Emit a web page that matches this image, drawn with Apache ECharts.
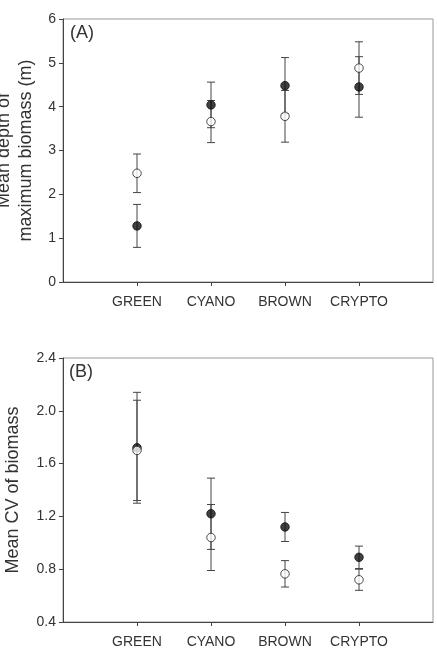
<!DOCTYPE html>
<html lang="en">
<head>
	<meta charset="UTF-8">
	<title>Depth and CV of biomass</title>
	<script src="https://cdn.jsdelivr.net/npm/echarts@6/dist/echarts.min.js"></script>
</head>
<body style="margin:0">
	<div id="chart" style="width: 437px;height: 656px;"></div>
</body>
<script>
	// categories on x (placed at 1..4)
	const categories = ['GREEN', 'CYANO', 'BROWN', 'CRYPTO']
	const catPos = [1, 2, 3, 4]

	// (A) mean depth of maximum biomass (m)
	const depthFilled = [1.28, 4.04, 4.48, 4.45]
	const depthFilledErr = [0.49, 0.52, 0.64, 0.69]
	const depthOpen = [2.48, 3.66, 3.78, 4.88]
	const depthOpenErr = [0.44, 0.48, 0.59, 0.60]

	// (B) mean CV of biomass
	const cvFilled = [1.72, 1.22, 1.12, 0.89]
	const cvFilledErr = [0.42, 0.27, 0.11, 0.085]
	const cvOpen = [1.70, 1.04, 0.765, 0.72]
	const cvOpenErr = [0.38, 0.25, 0.10, 0.08]

	const depthTicks = [0, 1, 2, 3, 4, 5, 6]
	const cvTicks = ['0.4', '0.8', '1.2', '1.6', '2.0', '2.4']

	const font = 'Liberation Sans, Arial, sans-serif'
	const textColor = '#333'

	let mcharts = echarts.init(document.getElementById('chart'))

	const points = (vals) => vals.map((v, i) => [catPos[i], v])
	const bars = (vals, errs) => vals.map((v, i) => [catPos[i], v - errs[i], v + errs[i]])

	function errorBar(params, api) {
		const x = api.value(0)
		const lo = api.coord([x, api.value(1)])
		const hi = api.coord([x, api.value(2)])
		const cap = 4
		const style = { stroke: '#444', lineWidth: 1 }
		return {
			type: 'group',
			children: [
				{ type: 'line', shape: { x1: lo[0], y1: lo[1], x2: hi[0], y2: hi[1] }, style },
				{ type: 'line', shape: { x1: lo[0] - cap, y1: lo[1], x2: lo[0] + cap, y2: lo[1] }, style },
				{ type: 'line', shape: { x1: hi[0] - cap, y1: hi[1], x2: hi[0] + cap, y2: hi[1] }, style }
			]
		}
	}

	function xAxisFor(gridIndex) {
		return {
			gridIndex,
			type: 'value',
			min: 0,
			max: 5,
			interval: 1,
			splitLine: { show: false },
			axisLine: { lineStyle: { color: '#444' } },
			axisTick: { customValues: catPos, length: 4, lineStyle: { color: '#444' } },
			axisLabel: {
				customValues: catPos,
				formatter: v => categories[v - 1],
				margin: 13,
				fontSize: 14,
				fontFamily: font,
				color: textColor
			}
		}
	}

	function yAxisFor(gridIndex, min, max, interval, name, nameGap, fmt) {
		return {
			gridIndex,
			type: 'value',
			min,
			max,
			interval,
			name,
			nameLocation: 'middle',
			nameGap,
			nameTextStyle: { fontSize: 18, fontFamily: font, color: textColor, lineHeight: 22 },
			splitLine: { show: false },
			axisLine: { show: true, lineStyle: { color: '#444' } },
			axisTick: { length: 4, lineStyle: { color: '#444' } },
			axisLabel: { margin: 7, fontSize: 14, fontFamily: font, color: textColor, formatter: fmt }
		}
	}

	const filledStyle = { color: '#111', borderColor: '#111', borderWidth: 1 }
	const openStyle = { color: '#fff', borderColor: '#222', borderWidth: 1 }

	let option = {
		animation: false,
		grid: [
			{ left: 63, right: 4, top: 19, height: 263, outerBoundsMode: 'none', containLabel: false, show: true, borderColor: '#999', borderWidth: 1 },
			{ left: 63, right: 4, top: 358, height: 264, outerBoundsMode: 'none', containLabel: false, show: true, borderColor: '#999', borderWidth: 1 }
		],
		graphic: [
			{ type: 'text', left: 70, top: 24, style: { text: '(A)', fontSize: 18, fontFamily: font, fill: textColor } },
			{ type: 'text', left: 69, top: 363, style: { text: '(B)', fontSize: 18, fontFamily: font, fill: textColor } }
		],
		xAxis: [xAxisFor(0), xAxisFor(1)],
		yAxis: [
			yAxisFor(0, depthTicks[0], depthTicks[depthTicks.length - 1], 1,
				'Mean depth of\nmaximum biomass (m)', 19, v => v),
			yAxisFor(1, +cvTicks[0], +cvTicks[cvTicks.length - 1], 0.4,
				'Mean CV of biomass', 39, v => v.toFixed(1))
		],
		series: [
			{ type: 'custom', xAxisIndex: 0, yAxisIndex: 0, renderItem: errorBar, data: bars(depthFilled, depthFilledErr), z: 1 },
			{ type: 'custom', xAxisIndex: 0, yAxisIndex: 0, renderItem: errorBar, data: bars(depthOpen, depthOpenErr), z: 1 },
			{ type: 'custom', xAxisIndex: 1, yAxisIndex: 1, renderItem: errorBar, data: bars(cvFilled, cvFilledErr), z: 1 },
			{ type: 'custom', xAxisIndex: 1, yAxisIndex: 1, renderItem: errorBar, data: bars(cvOpen, cvOpenErr), z: 1 },
			{ type: 'scatter', xAxisIndex: 0, yAxisIndex: 0, symbolSize: 8.5, itemStyle: filledStyle, data: points(depthFilled), z: 3 },
			{ type: 'scatter', xAxisIndex: 0, yAxisIndex: 0, symbolSize: 8.5, itemStyle: openStyle, data: points(depthOpen), z: 4 },
			{ type: 'scatter', xAxisIndex: 1, yAxisIndex: 1, symbolSize: 8.5, itemStyle: filledStyle, data: points(cvFilled), z: 3 },
			{ type: 'scatter', xAxisIndex: 1, yAxisIndex: 1, symbolSize: 8.5, itemStyle: openStyle, data: points(cvOpen), z: 4 }
		]
	}

	mcharts.setOption(option)
</script>
</html>
